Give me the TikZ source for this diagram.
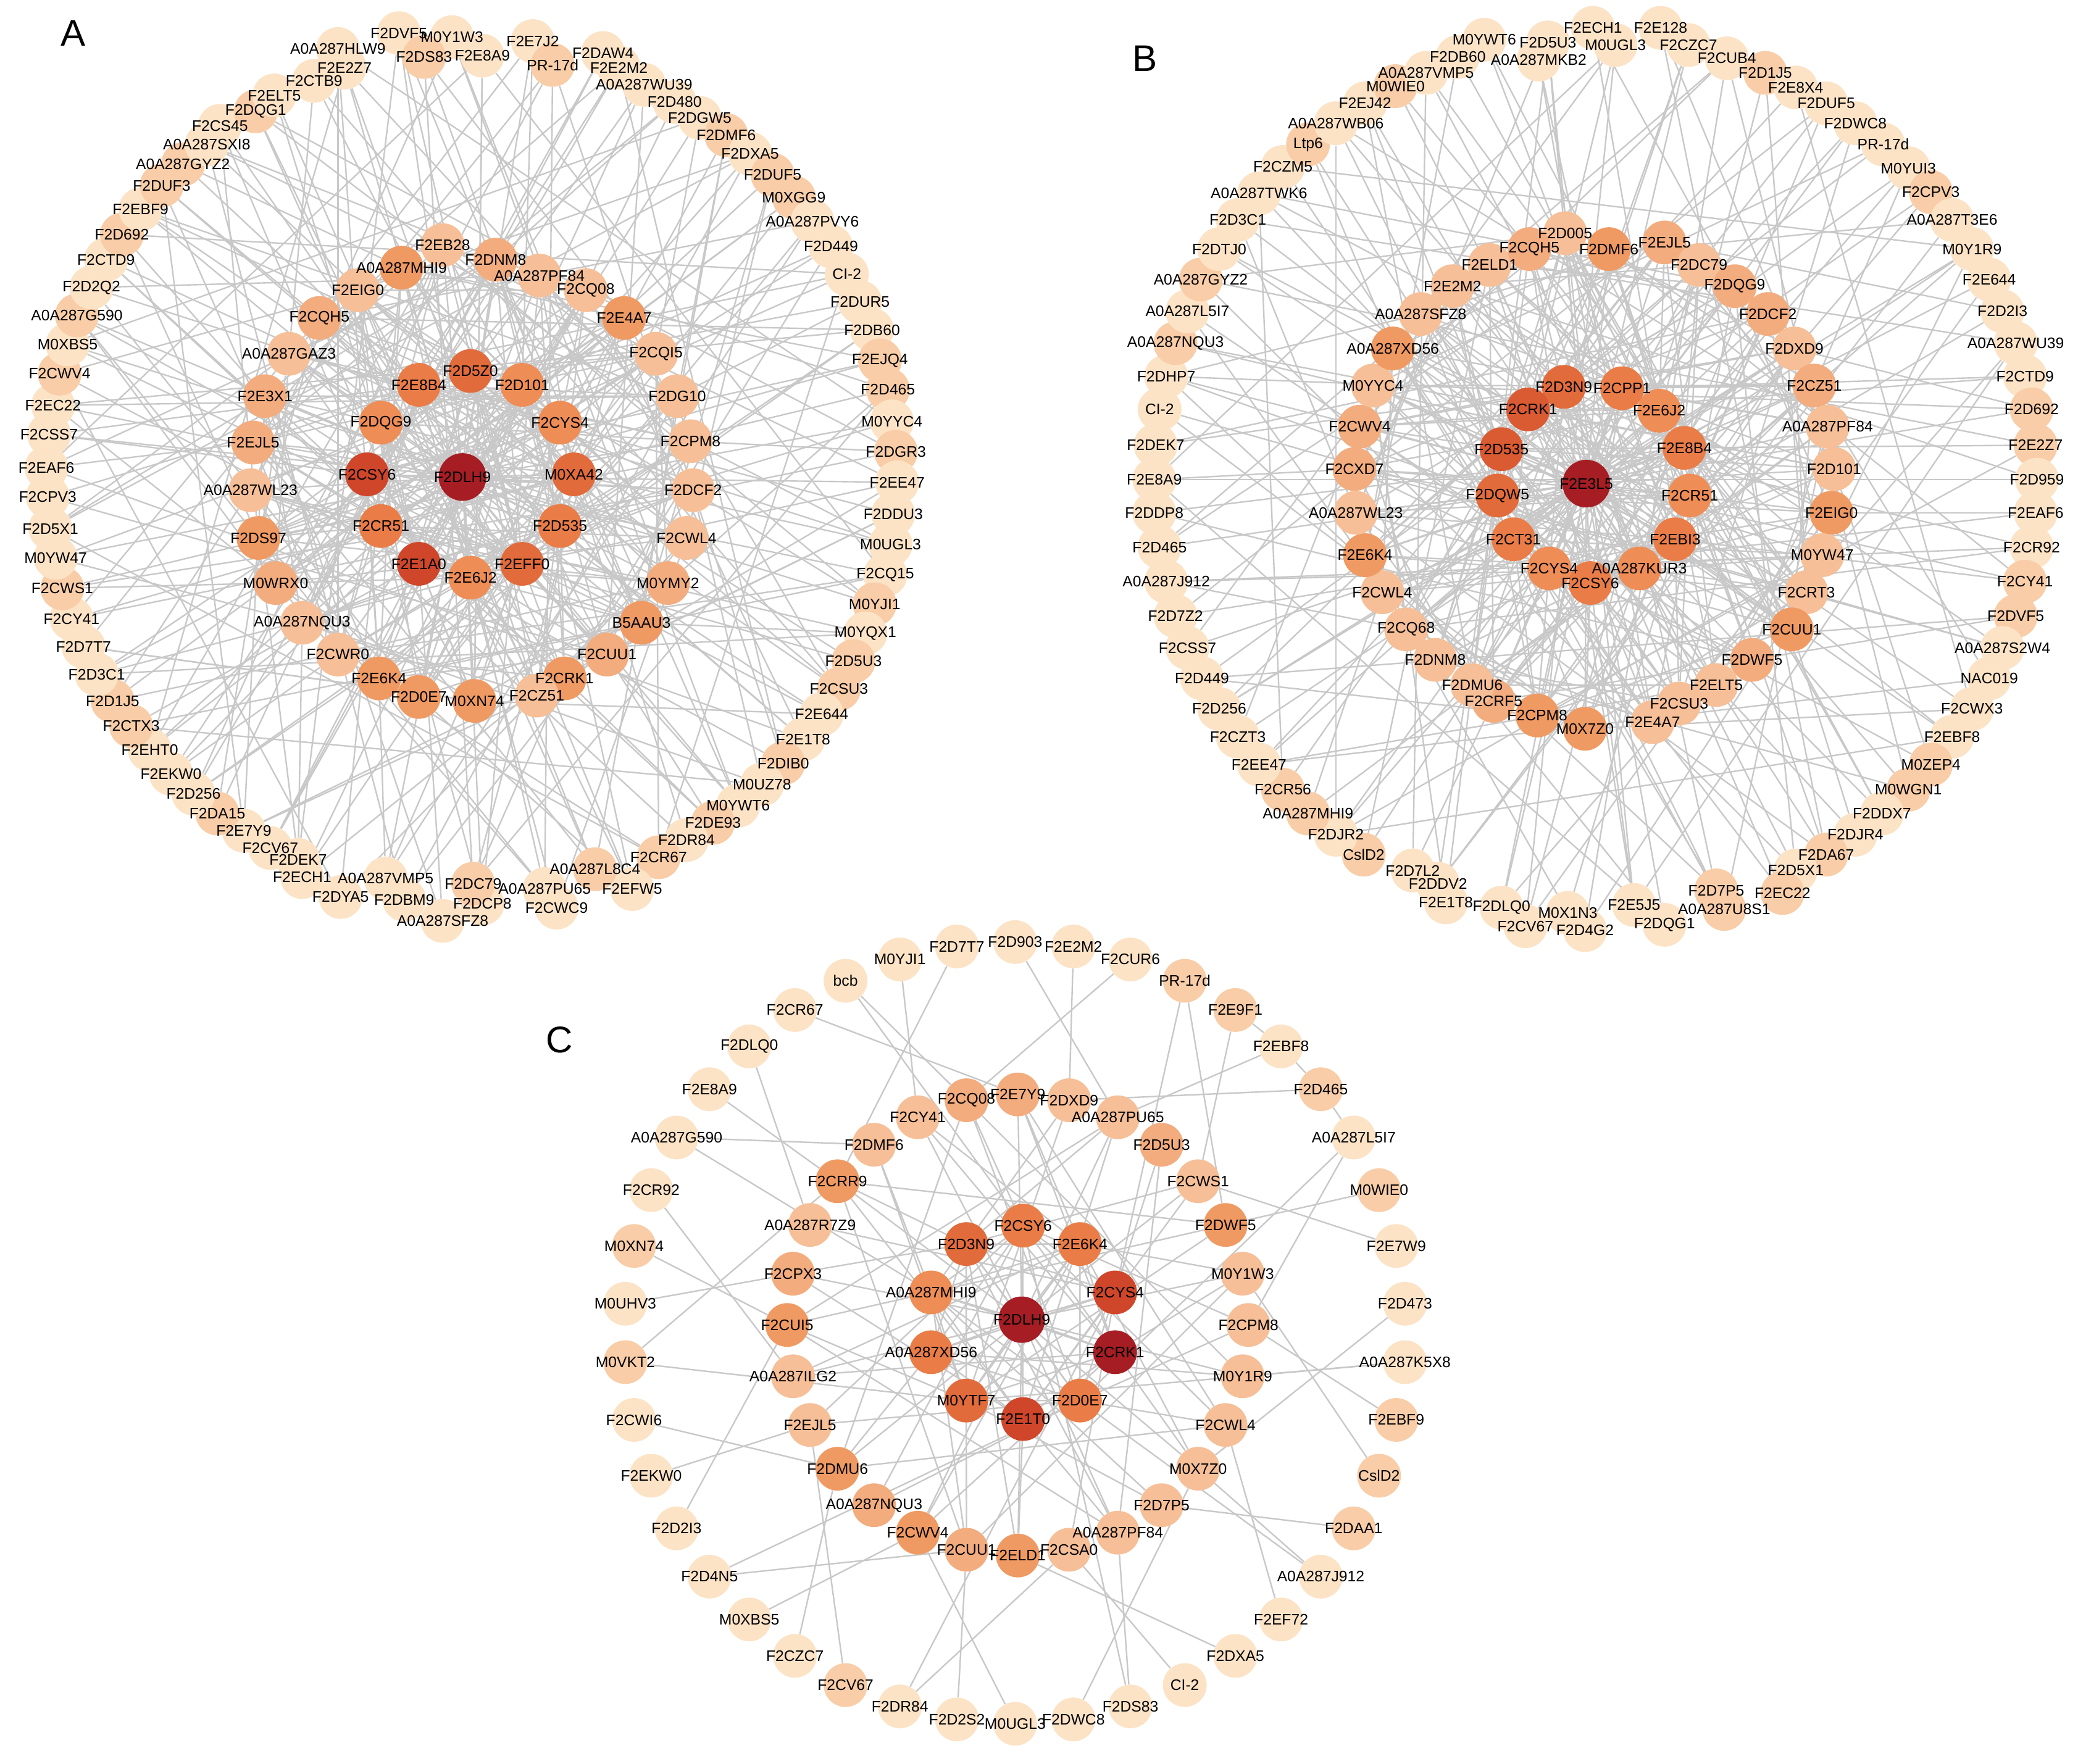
\documentclass[tikz,border=0pt]{standalone}
\usepackage{fontspec}
\setmainfont{Liberation Sans}
\usetikzlibrary{calc}
\pgfdeclarelayer{bg}
\pgfsetlayers{bg,main}
\definecolor{cR}{HTML}{A61D24}
\definecolor{cR2}{HTML}{D0462A}
\definecolor{cR3}{HTML}{DA5A32}
\definecolor{cO1}{HTML}{E26B3C}
\definecolor{cO2}{HTML}{EA7D47}
\definecolor{cO3}{HTML}{EE8D56}
\definecolor{cM1}{HTML}{F09A63}
\definecolor{cM2}{HTML}{F3AC7E}
\definecolor{cM3}{HTML}{F6BF97}
\definecolor{oD}{HTML}{F8CDA7}
\definecolor{oL}{HTML}{FCE3C6}
\definecolor{edgegray}{HTML}{C8C8C8}
\tikzset{
  nd/.style={circle, draw=none, minimum size=33pt, inner sep=0pt},
  lab/.style={inner sep=0pt, font=\fontsize{11.5}{13}\selectfont, text=black},
  edge/.style={draw=edgegray, line width=1.1pt},
  panel/.style={inner sep=0pt, font=\fontsize{28}{30}\selectfont}
}
% ---------- Panel A ----------
\def\Aouter{F2DVF5/301/25/L,M0Y1W3/341/28/L,F2DS83/320/43/D,F2E8A9/364/42/L,F2E7J2/402/31/L,PR-17d/417/49/D,F2DAW4/455/40/L,F2E2M2/467/51/L,A0A287WU39/486/64/L,F2D480/509/77/L,F2DGW5/528/89/L,F2DMF6/548/102/D,F2DXA5/566/116/L,F2DUF5/583/132/D,M0XGG9/599/149/D,A0A287PVY6/613/167/L,F2D449/627/186/L,CI-2/639/207/L,F2DUR5/649/228/L,F2DB60/658/249/L,F2EJQ4/664/272/D,F2D465/670/294/D,M0YYC4/673/318/L,F2DGR3/676/341/D,F2EE47/677/364/L,F2DDU3/674/388/L,M0UGL3/672/411/L,F2CQ15/668/434/L,M0YJI1/660/456/D,M0YQX1/653/478/L,F2D5U3/644/499/D,F2CSU3/633/520/D,F2E644/620/539/L,F2E1T8/606/558/L,F2DIB0/591/576/D,M0UZ78/575/592/L,M0YWT6/557/608/L,F2DE93/538/621/D,F2DR84/518/634/L,F2CR67/497/647/D,F2EFW5/477/671/L,A0A287L8C4/449/656/D,F2CWC9/420/685/L,A0A287PU65/411/671/L,F2DCP8/364/682/L,F2DC79/357/667/D,A0A287SFZ8/334/695/L,F2DBM9/305/679/L,A0A287VMP5/291/663/L,F2DYA5/257/677/L,F2ECH1/228/662/L,F2DEK7/225/649/L,F2CV67/204/640/L,F2E7Y9/184/627/L,F2DA15/164/614/D,F2D256/146/599/L,F2EKW0/129/584/L,F2EHT0/113/566/L,F2CTX3/99/548/D,F2D1J5/85/529/D,F2D3C1/73/509/L,F2D7T7/63/488/L,F2CY41/54/467/L,F2CWS1/47/444/D,M0YW47/42/421/L,F2D5X1/38/399/L,F2CPV3/36/375/L,F2EAF6/35/353/L,F2CSS7/37/328/L,F2EC22/40/306/L,F2CWV4/45/282/D,M0XBS5/51/260/L,A0A287G590/58/238/D,F2D2Q2/69/217/L,F2CTD9/80/196/L,F2D692/92/177/D,F2EBF9/106/158/L,F2DUF3/122/140/D,A0A287GYZ2/138/124/D,A0A287SXI8/156/109/L,F2CS45/166/95/L,F2DQG1/193/84/D,F2ELT5/207/72/L,F2CTB9/237/61/L,F2E2Z7/260/51/L,A0A287HLW9/255/37/L}
\def\Amid{F2EB28/334/185/M3,F2DNM8/374/196/M2,A0A287PF84/407/208/M3,F2CQ08/442/219/M3,F2E4A7/471/240/M1,F2CQI5/495/267/M3,F2DG10/511/299/M3,F2CPM8/521/333/M3,F2DCF2/523/370/M3,F2CWL4/518/406/M3,M0YMY2/504/440/M2,B5AAU3/484/470/M1,F2CUU1/458/494/M2,F2CRK1/426/512/M1,F2CZ51/405/525/M3,M0XN74/358/529/M1,F2D0E7/316/526/M1,F2E6K4/286/512/M1,F2CWR0/255/494/M3,A0A287NQU3/228/470/M3,M0WRX0/208/440/M2,F2DS97/195/406/M1,A0A287WL23/189/370/M3,F2EJL5/191/334/M2,F2E3X1/200/299/M2,A0A287GAZ3/218/267/M3,F2CQH5/241/240/M2,F2EIG0/270/219/M3,A0A287MHI9/303/202/M1}
\def\Ainn{F2D5Z0/O1,F2D101/O3,F2CYS4/O3,M0XA42/O1,F2D535/O2,F2EFF0/O1,F2E6J2/O3,F2E1A0/R2,F2CR51/O2,F2CSY6/R2,F2DQG9/O3,F2E8B4/O2}
% ---------- Panel B ----------
\def\Bouter{M0YWT6/1120/30/L,F2D5U3/1168/32/L,F2ECH1/1202/21/L,A0A287MKB2/1161/45/L,M0UGL3/1219/34/L,F2E128/1253/21/L,F2CZC7/1274/34/L,F2CUB4/1303/44/L,F2D1J5/1332/55/D,F2E8X4/1355/66/L,F2DUF5/1378/78/L,F2DWC8/1400/93/L,PR-17d/1421/109/L,M0YUI3/1440/127/L,F2CPV3/1457/145/D,A0A287T3E6/1473/166/L,M0Y1R9/1488/188/L,F2E644/1501/211/L,F2D2I3/1511/235/L,A0A287WU39/1521/259/L,F2CTD9/1528/284/L,F2D692/1533/309/D,F2E2Z7/1536/336/D,F2D959/1537/362/L,F2EAF6/1536/387/L,F2CR92/1533/413/L,F2CY41/1528/439/D,F2DVF5/1521/465/D,A0A287S2W4/1511/489/L,NAC019/1501/512/L,F2CWX3/1488/535/L,F2EBF8/1473/556/L,M0ZEP4/1457/577/D,M0WGN1/1440/596/D,F2DDX7/1420/614/L,F2DJR4/1400/630/L,F2DA67/1378/645/D,F2D5X1/1355/657/L,F2EC22/1345/674/D,F2D7P5/1295/672/D,A0A287U8S1/1301/686/D,F2DQG1/1256/698/L,F2E5J5/1233/683/L,F2D4G2/1196/702/L,M0X1N3/1183/689/L,F2CV67/1151/699/L,F2DLQ0/1133/685/L,F2E1T8/1091/681/L,F2DDV2/1085/667/L,F2D7L2/1066/657/L,CslD2/1029/645/D,F2DJR2/1008/630/L,A0A287MHI9/987/614/D,F2CR56/968/596/D,F2EE47/950/577/L,F2CZT3/934/556/L,F2D256/920/535/L,F2D449/907/512/L,F2CSS7/896/489/L,F2D7Z2/887/465/L,A0A287J912/880/439/L,F2D465/875/413/L,F2DDP8/871/387/L,F2E8A9/871/362/L,F2DEK7/872/336/L,CI-2/875/309/L,F2DHP7/880/284/L,A0A287NQU3/887/259/D,A0A287L5I7/896/235/L,A0A287GYZ2/906/211/D,F2DTJ0/920/188/L,F2D3C1/934/166/L,A0A287TWK6/950/146/L,F2CZM5/968/126/L,Ltp6/987/109/D,A0A287WB06/1008/93/L,F2EJ42/1030/78/L,M0WIE0/1053/65/D,A0A287VMP5/1076/55/L,F2DB60/1100/43/L}
\def\Bmid{F2D005/1181/176/M3,F2DMF6/1214/188/M1,F2EJL5/1256/183/M2,F2DC79/1282/200/M3,F2DQG9/1309/216/M2,F2DCF2/1334/237/M2,F2DXD9/1354/263/M3,F2CZ51/1369/291/M2,A0A287PF84/1379/322/M3,F2D101/1384/354/M3,F2EIG0/1382/387/M1,M0YW47/1375/419/M3,F2CRT3/1363/447/M3,F2CUU1/1352/475/M1,F2DWF5/1322/498/M2,F2ELT5/1295/517/M3,F2CSU3/1267/531/M3,F2E4A7/1247/545/M3,M0X7Z0/1196/550/M1,F2CPM8/1160/540/M1,F2CRF5/1127/529/M2,F2DMU6/1111/517/M3,F2DNM8/1083/498/M3,F2CQ68/1061/475/M3,F2CWL4/1043/447/M3,F2E6K4/1030/419/M1,A0A287WL23/1023/387/M3,F2CXD7/1022/354/M2,F2CWV4/1026/322/M2,M0YYC4/1036/291/M3,A0A287XD56/1051/263/M1,A0A287SFZ8/1072/237/M3,F2E2M2/1096/216/M3,F2ELD1/1124/200/M3,F2CQH5/1154/188/M2}
\def\Binn{F2D3N9/1180/292/O1,F2CPP1/1224/293/O2,F2E6J2/1252/310/O3,F2E8B4/1271/338/O2,F2CR51/1275/374/O3,F2EBI3/1264/407/O2,A0A287KUR3/1237/429/O3,F2CSY6/1200/440/O2,F2CYS4/1169/429/O3,F2CT31/1142/407/O2,F2DQW5/1130/374/O1,F2D535/1133/339/R3,F2CRK1/1153/309/R3}
% ---------- Panel C ----------
\def\Couter{F2D903/L,F2E2M2/L,F2CUR6/L,PR-17d/D,F2E9F1/D,F2EBF8/L,F2D465/D,A0A287L5I7/L,M0WIE0/D,F2E7W9/L,F2D473/L,A0A287K5X8/L,F2EBF9/D,CslD2/D,F2DAA1/D,A0A287J912/L,F2EF72/L,F2DXA5/L,CI-2/L,F2DS83/L,F2DWC8/L,M0UGL3/L,F2D2S2/L,F2DR84/L,F2CV67/D,F2CZC7/L,M0XBS5/L,F2D4N5/L,F2D2I3/L,F2EKW0/L,F2CWI6/L,M0VKT2/D,M0UHV3/L,M0XN74/D,F2CR92/L,A0A287G590/L,F2E8A9/L,F2DLQ0/L,F2CR67/L,bcb/L,M0YJI1/L,F2D7T7/L}
\def\Cmid{F2E7Y9/M2,F2DXD9/M3,A0A287PU65/M3,F2D5U3/M2,F2CWS1/M3,F2DWF5/M1,M0Y1W3/M3,F2CPM8/M3,M0Y1R9/M3,F2CWL4/M3,M0X7Z0/M3,F2D7P5/M3,A0A287PF84/M3,F2CSA0/M3,F2ELD1/M1,F2CUU1/M2,F2CWV4/M1,A0A287NQU3/M2,F2DMU6/M1,F2EJL5/M3,A0A287ILG2/M3,F2CUI5/M1,F2CPX3/M2,A0A287R7Z9/M3,F2CRR9/M1,F2DMF6/M3,F2CY41/M3,F2CQ08/M2}
\def\Cinn{F2CSY6/O2,F2E6K4/O2,F2CYS4/R2,F2CRK1/R,F2D0E7/O2,F2E1T0/R2,M0YTF7/O1,A0A287XD56/O2,A0A287MHI9/O3,F2D3N9/O1}
\begin{document}
\begin{tikzpicture}[x=1pt,y=-1pt]
\useasboundingbox (0,0) rectangle (1568,1331);
\begin{pgfonlayer}{bg}
\fill[white] (0,0) rectangle (1568,1331);
\end{pgfonlayer}
% panel letters
\node[panel] (labA) at (55,25) {A};
\node[panel] (labB) at (864,44) {B};
\node[panel] (labC) at (422,785) {C};
% ===== circles =====
\foreach \n/\x/\y/\c [count=\i] in \Aouter {\node[nd,fill=o\c] (A-o-\i) at (\x,\y) {};}
\foreach \n/\x/\y/\c [count=\i] in \Amid {\node[nd,fill=c\c] (A-m-\i) at (\x,\y) {};}
\foreach \n/\c [count=\i] in \Ainn {\pgfmathsetmacro\ang{-90+(\i-1)*30}\node[nd,fill=c\c] (A-i-\i) at ($(355,358)+(\ang:78)$) {};}
\node[nd,minimum size=36pt,fill=cR] (A-c) at (349,360) {};
\foreach \n/\x/\y/\c [count=\i] in \Bouter {\node[nd,fill=o\c] (B-o-\i) at (\x,\y) {};}
\foreach \n/\x/\y/\c [count=\i] in \Bmid {\node[nd,fill=c\c] (B-m-\i) at (\x,\y) {};}
\foreach \n/\x/\y/\c [count=\i] in \Binn {\node[nd,fill=c\c] (B-i-\i) at (\x,\y) {};}
\node[nd,minimum size=36pt,fill=cR] (B-c) at (1197,365) {};
\foreach \n/\c [count=\i] in \Couter {\pgfmathsetmacro\ang{-90+(\i-1)*360/42}\node[nd,fill=o\c] (C-o-\i) at ($(766,1006)+(\ang:295)$) {};}
\foreach \n/\c [count=\i] in \Cmid {\pgfmathsetmacro\ang{-90+(\i-1)*360/28}\node[nd,fill=c\c] (C-m-\i) at ($(768,1000)+(\ang:174)$) {};}
\foreach \n/\c [count=\i] in \Cinn {\pgfmathsetmacro\ang{-90+(\i-1)*36}\node[nd,fill=c\c] (C-i-\i) at ($(772,998)+(\ang:73)$) {};}
\node[nd,minimum size=35pt,fill=cR] (C-c) at (771,996) {};
% ===== labels =====
\foreach \n/\x/\y/\c [count=\i] in \Aouter {\node[lab] (A-o-\i-t) at (A-o-\i) {\n};}
\foreach \n/\x/\y/\c [count=\i] in \Amid {\node[lab] (A-m-\i-t) at (A-m-\i) {\n};}
\foreach \n/\c [count=\i] in \Ainn {\node[lab] (A-i-\i-t) at (A-i-\i) {\n};}
\node[lab] (A-c-t) at (A-c) {F2DLH9};
\foreach \n/\x/\y/\c [count=\i] in \Bouter {\node[lab] (B-o-\i-t) at (B-o-\i) {\n};}
\foreach \n/\x/\y/\c [count=\i] in \Bmid {\node[lab] (B-m-\i-t) at (B-m-\i) {\n};}
\foreach \n/\x/\y/\c [count=\i] in \Binn {\node[lab] (B-i-\i-t) at (B-i-\i) {\n};}
\node[lab] (B-c-t) at (B-c) {F2E3L5};
\foreach \n/\c [count=\i] in \Couter {\node[lab] (C-o-\i-t) at (C-o-\i) {\n};}
\foreach \n/\c [count=\i] in \Cmid {\node[lab] (C-m-\i-t) at (C-m-\i) {\n};}
\foreach \n/\c [count=\i] in \Cinn {\node[lab] (C-i-\i-t) at (C-i-\i) {\n};}
\node[lab] (C-c-t) at (C-c) {F2DLH9};
% ===== edges =====
\begin{pgfonlayer}{bg}
% --- A ---
\foreach \i in {1,...,12} {
  \draw[edge] (A-c) -- (A-i-\i);
  \pgfmathtruncatemacro\pa{mod(\i+2,12)+1}\pgfmathtruncatemacro\pb{mod(\i+4,12)+1}
  \draw[edge] (A-i-\i) -- (A-i-\pa) (A-i-\i) -- (A-i-\pb);
}
\foreach \m in {1,...,29} {
  \draw[edge] (A-c) -- (A-m-\m);
  \pgfmathtruncatemacro\pa{mod(\m*5,12)+1}\pgfmathtruncatemacro\pb{mod(\m*7+3,12)+1}\pgfmathtruncatemacro\pc{mod(\m*11+6,12)+1}
  \draw[edge] (A-m-\m) -- (A-i-\pa) (A-m-\m) -- (A-i-\pb) (A-m-\m) -- (A-i-\pc);
  \pgfmathtruncatemacro\pd{mod(\m+4,29)+1}\pgfmathtruncatemacro\pe{mod(\m+10,29)+1}
  \draw[edge] (A-m-\m) -- (A-m-\pd) (A-m-\m) -- (A-m-\pe);
}
\foreach \k in {1,...,86} {
  \pgfmathtruncatemacro\pa{mod(\k*11,29)+1}
  \draw[edge] (A-o-\k) -- (A-m-\pa);
  \ifodd\k
    \pgfmathtruncatemacro\pb{mod(\k*5,12)+1}\draw[edge] (A-o-\k) -- (A-i-\pb);
  \else
    \pgfmathtruncatemacro\pc{mod(\k+20+mod(\k*7,25),86)+1}\draw[edge] (A-o-\k) -- (A-o-\pc);
    \pgfmathtruncatemacro\pd{mod(\k*17+5,29)+1}\draw[edge] (A-o-\k) -- (A-m-\pd);
  \fi
  \pgfmathtruncatemacro\pe{mod(\k,4)}\ifnum\pe=1 \draw[edge] (A-o-\k) -- (A-c);\fi
}
% --- B ---
\foreach \i in {1,...,13} {
  \draw[edge] (B-c) -- (B-i-\i);
  \pgfmathtruncatemacro\pa{mod(\i+2,13)+1}\pgfmathtruncatemacro\pb{mod(\i+5,13)+1}
  \draw[edge] (B-i-\i) -- (B-i-\pa) (B-i-\i) -- (B-i-\pb);
}
\foreach \m in {1,...,35} {
  \draw[edge] (B-c) -- (B-m-\m);
  \pgfmathtruncatemacro\pa{mod(\m*5,13)+1}\pgfmathtruncatemacro\pb{mod(\m*7+3,13)+1}\pgfmathtruncatemacro\pc{mod(\m*11+6,13)+1}
  \draw[edge] (B-m-\m) -- (B-i-\pa) (B-m-\m) -- (B-i-\pb) (B-m-\m) -- (B-i-\pc);
  \pgfmathtruncatemacro\pd{mod(\m+5,35)+1}\pgfmathtruncatemacro\pe{mod(\m+12,35)+1}
  \draw[edge] (B-m-\m) -- (B-m-\pd) (B-m-\m) -- (B-m-\pe);
}
\foreach \k in {1,...,80} {
  \pgfmathtruncatemacro\pa{mod(\k*13,35)+1}
  \draw[edge] (B-o-\k) -- (B-m-\pa);
  \ifodd\k
    \pgfmathtruncatemacro\pb{mod(\k*5,13)+1}\draw[edge] (B-o-\k) -- (B-i-\pb);
  \else
    \pgfmathtruncatemacro\pc{mod(\k+18+mod(\k*11,27),80)+1}\draw[edge] (B-o-\k) -- (B-o-\pc);
  \fi
  \pgfmathtruncatemacro\pe{mod(\k,5)}\ifnum\pe=2 \draw[edge] (B-o-\k) -- (B-c);\fi
}
% --- C ---
\foreach \i in {1,...,10} {
  \draw[edge] (C-c) -- (C-i-\i);
  \pgfmathtruncatemacro\pa{mod(\i+1,10)+1}\pgfmathtruncatemacro\pb{mod(\i+2,10)+1}
  \draw[edge] (C-i-\i) -- (C-i-\pa) (C-i-\i) -- (C-i-\pb);
}
\foreach \i in {1,...,5} {\pgfmathtruncatemacro\pa{\i+5}\draw[edge] (C-i-\i) -- (C-i-\pa);}
\foreach \m in {1,...,28} {
  \pgfmathtruncatemacro\pa{mod(\m*3,10)+1}\pgfmathtruncatemacro\pb{mod(\m*7+4,10)+1}
  \draw[edge] (C-m-\m) -- (C-i-\pa) (C-m-\m) -- (C-i-\pb);
  \ifodd\m \draw[edge] (C-m-\m) -- (C-c);\fi
}
\foreach \m in {1,4,...,28} {\pgfmathtruncatemacro\pa{mod(\m+8,28)+1}\draw[edge] (C-m-\m) -- (C-m-\pa);}
\foreach \k in {1,...,42} {
  \pgfmathtruncatemacro\pa{mod(round((\k-1)*2/3)+mod(\k*5,7)-3+28,28)+1}
  \draw[edge] (C-o-\k) -- (C-m-\pa);
  \pgfmathtruncatemacro\pe{mod(\k,4)}\ifnum\pe=0 \pgfmathtruncatemacro\pb{mod(\k*3,10)+1}\draw[edge] (C-o-\k) -- (C-i-\pb);\fi
}
\draw[edge] (C-o-5) -- (C-o-6);
\draw[edge] (C-o-6) -- (C-o-7);
\draw[edge] (C-o-7) -- (C-o-8);
\end{pgfonlayer}
\end{tikzpicture}
\end{document}
